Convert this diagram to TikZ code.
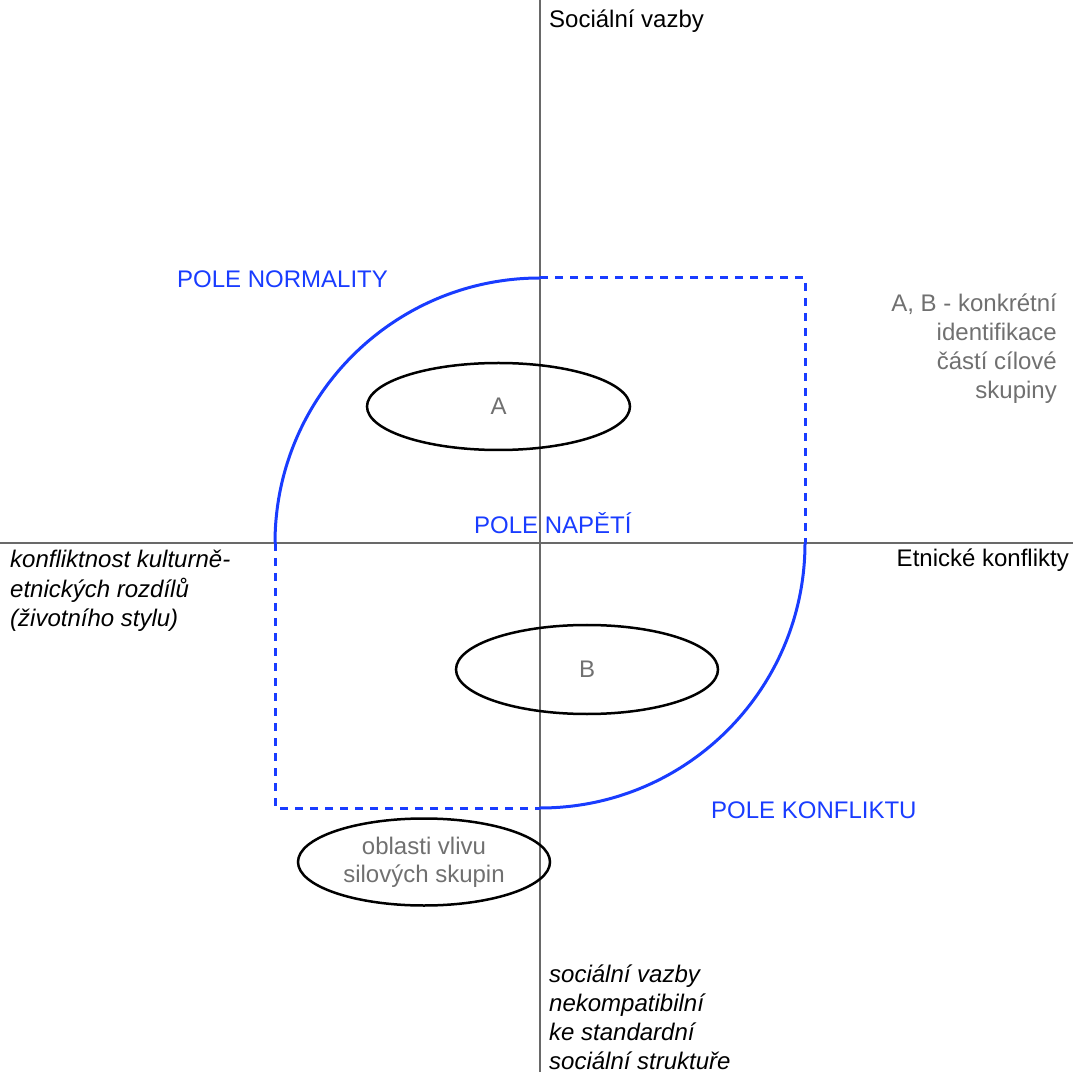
\documentclass[tikz,border=0pt]{standalone}
\usepackage{fontspec}
\setmainfont{Liberation Sans}
\usepackage{tikz}
\usetikzlibrary{shapes.geometric}
\definecolor{poleblue}{RGB}{25,60,255}
\definecolor{axisgray}{RGB}{105,105,105}
\definecolor{labelgray}{RGB}{112,112,112}

\begin{document}
\begin{tikzpicture}[x=1pt,y=1pt]
\tikzstyle{every node}+=[inner sep=0pt, font=\fontsize{24}{29}\selectfont]
\tikzstyle{axis}=[draw=axisgray, line width=2.5pt]
\tikzstyle{pole}=[draw=poleblue, line width=3pt]
\tikzstyle{poledash}=[pole, dash pattern=on 8pt off 7pt]
\tikzstyle{oval}=[ellipse, draw=black, line width=2.5pt, text=labelgray, align=center]
\useasboundingbox (0,0) rectangle (1073,1072);
% axes
\coordinate (ytop) at (540,1072);
\coordinate (ybot) at (540,0);
\coordinate (xleft) at (0,529);
\coordinate (xright) at (1073,529);
\draw [axis] (ybot) -- (ytop);
\draw [axis] (xleft) -- (xright);
% fields
\coordinate (north) at (540,794);
\coordinate (west) at (275,529);
\coordinate (east) at (805,529);
\coordinate (south) at (540,264);
\coordinate (ne) at (805,794);
\coordinate (sw) at (275,264);
\draw [pole] (north) arc (90:180:265);
\draw [pole] (east) arc (0:-90:265);
\draw [poledash] (north) -- (ne) -- (east);
\draw [poledash] (west) -- (sw) -- (south);
% groups
\node [oval, minimum width=263, minimum height=87] (A) at (498.5,665.5) {A};
\node [oval, minimum width=252, minimum height=87, font=\fontsize{24}{28}\selectfont] (forces) at (424,210) {oblasti vlivu\\silových skupin};
\node [oval, minimum width=262, minimum height=89] (B) at (587,402.5) {B};
% labels
\node [anchor=base west] (yname) at (549,1044) {Sociální vazby};
\node [anchor=base east] (xname) at (1069,505) {Etnické konflikty};
\node [anchor=base west, text=poleblue] (normal) at (177,784) {POLE NORMALITY};
\node [anchor=base west, text=poleblue] (tension) at (474,538) {POLE NAPĚTÍ};
\node [anchor=base west, text=poleblue] (conflict) at (711,254) {POLE KONFLIKTU};
\node [anchor=north east, align=right, text=labelgray] (legend) at (1057,778)
  {A, B - konkrétní\\identifikace\\částí cílové\\skupiny};
\node [anchor=north west, align=left, font=\fontsize{24}{29.5}\selectfont\itshape] (xneg) at (10,522)
  {konfliktnost kulturně-\\etnických rozdílů\\(životního stylu)};
\node [anchor=north west, align=left, font=\fontsize{24}{29}\selectfont\itshape] (yneg) at (549,107)
  {sociální vazby\\nekompatibilní\\ke standardní\\sociální struktuře};
\end{tikzpicture}
\end{document}
